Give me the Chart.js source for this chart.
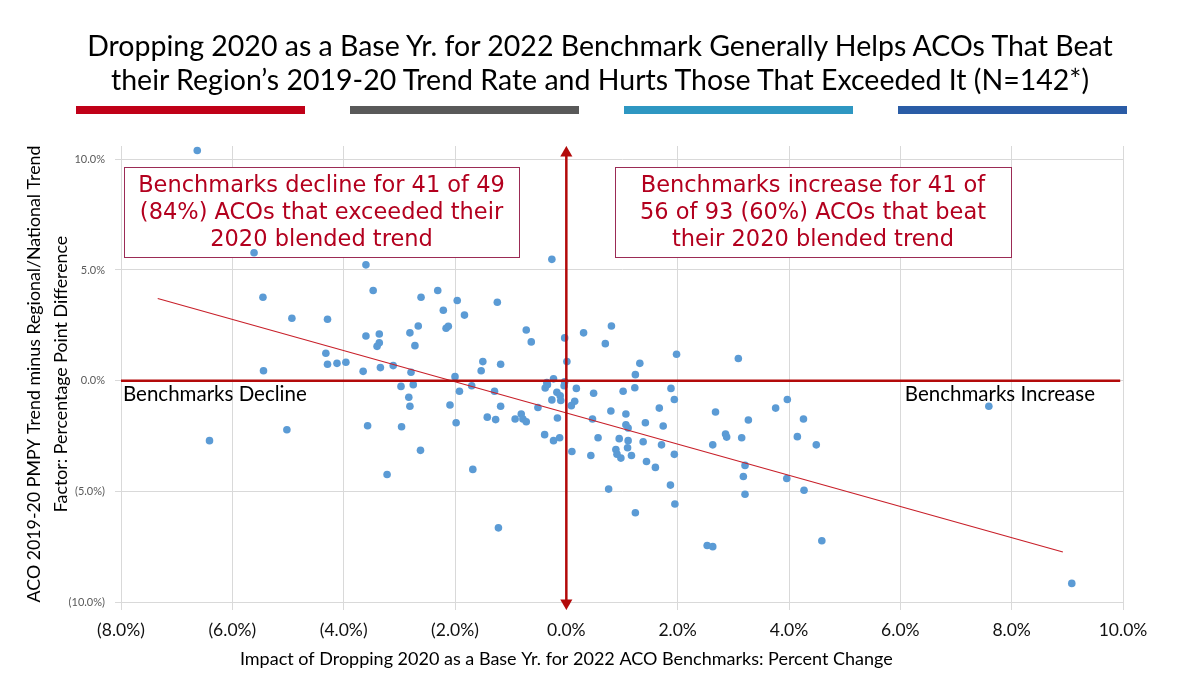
<!DOCTYPE html>
<html>
<head>
<meta charset="utf-8">
<script src="https://cdn.jsdelivr.net/npm/chart.js@4.4.1/dist/chart.umd.min.js"></script>
<style>
  html, body { margin: 0; padding: 0; background: #fff; }
  #wrap { position: relative; width: 1200px; height: 675px; overflow: hidden; }
  #grafico { position: absolute; left: 0; top: 0; }
  #titulo { position: absolute; left: 0; top: 28px; width: 1200px; text-align: center;
            font-family: Lato, "Noto Sans", sans-serif; font-size: 28.5px; line-height: 34px; color: #000; }
  .barra { position: absolute; top: 106px; height: 8px; width: 229px; }
</style>
</head>
<body>
<div id="wrap">
  <canvas id="grafico" width="1200" height="675"></canvas>
  <div id="titulo">Dropping 2020 as a Base Yr. for 2022 Benchmark Generally Helps ACOs That Beat<br>their Region’s 2019-20 Trend Rate and Hurts Those That Exceeded It (N=142*)</div>
  <div class="barra" style="left:76px;background:#C00018"></div>
  <div class="barra" style="left:350px;background:#595959"></div>
  <div class="barra" style="left:624px;background:#2E97C2"></div>
  <div class="barra" style="left:898px;background:#2A5CA6"></div>
</div>
<script>
// impacto de quitar 2020 (x, %) y diferencia de tendencia (y, puntos %)
const impacto = [
  -6.63, -5.61, -5.45, -4.93, -4.29, -3.60, -3.60, -4.32, -4.29, -4.12,
  -3.96, -5.44, -3.65, -0.26, -3.47, -2.61, -2.31, -1.96, -2.21, -1.83,
  -1.24, -2.16, -2.12, -2.66, -2.81, -2.72, -3.36, -3.36, -3.40, -3.34,
  -3.11, -2.79, -2.00, -1.53, -1.50, -1.18, -0.72, -0.63, -0.03, 0.01,
  -0.23, -0.35, 0.31, 0.70, 0.81, 1.32, 1.24, 1.98, 3.09, -6.41,
  -5.02, -3.57, -2.97, -2.75, -2.83, -2.81, -2.96, -2.62, -3.22, -2.09,
  -1.92, -1.98, -1.70, -1.68, -1.22, -1.29, -1.18, -1.42, -1.27, -0.92,
  -0.81, -0.78, -0.72, -0.51, -0.38, -0.34, -0.26, -0.17, -0.11, -0.10,
  -0.04, 0.18, 0.15, 0.09, -0.16, -0.39, -0.23, -0.12, 0.10, 0.49,
  0.80, 0.47, 0.57, 0.44, 0.76, 1.23, 1.02, 1.88, 1.94, 1.07,
  1.67, 1.42, 1.07, 1.11, 1.74, 0.95, 1.11, 1.38, 1.71, 0.89,
  0.91, 0.98, 1.10, 1.17, 1.44, 1.60, 1.94, 1.87, 1.95, 1.24,
  2.68, 3.27, 2.86, 2.88, 2.63, 3.15, 3.21, 3.18, 3.21, 2.53,
  2.63, 3.76, 3.97, 4.26, 4.15, 4.49, 3.96, 4.27, 4.59, 7.59,
  9.08, -0.03
];
const difTendencia = [
  10.40, 5.78, 3.77, 2.82, 2.77, 5.23, 2.02, 1.24, 0.74, 0.78,
  0.83, 0.45, 0.42, 5.48, 4.07, 3.77, 4.07, 3.62, 3.18, 2.96,
  3.54, 2.37, 2.46, 2.47, 2.16, 1.58, 2.11, 1.71, 1.55, 0.59,
  0.68, 0.38, 0.18, 0.45, 0.86, 0.74, 2.29, 1.75, 1.93, 0.86,
  0.08, -0.09, 2.16, 1.67, 2.47, 0.78, 0.27, 1.19, 1.00, -2.71,
  -2.22, -2.04, -0.26, -0.18, -0.75, -1.16, -2.08, -3.15, -4.24, -1.10,
  -0.48, -1.90, -0.23, -4.01, -6.65, -0.48, -1.16, -1.65, -1.76, -1.73,
  -1.51, -1.73, -1.86, -1.21, -0.33, -0.18, -0.87, -0.53, -0.68, -0.90,
  -0.23, -0.35, -0.93, -1.13, -1.69, -2.44, -2.71, -2.58, -3.20, -0.57,
  -1.37, -1.73, -2.58, -3.38, -4.90, -0.32, -0.48, -0.35, -0.85, -1.51,
  -1.24, -1.90, -1.99, -2.14, -2.05, -2.62, -2.71, -2.76, -2.90, -3.11,
  -3.32, -3.50, -3.03, -3.38, -3.65, -3.92, -3.33, -4.72, -5.57, -5.97,
  -1.42, -1.78, -2.41, -2.55, -2.90, -2.58, -3.83, -4.33, -5.13, -7.45,
  -7.50, -1.24, -0.85, -1.73, -2.53, -2.90, -4.42, -4.95, -7.23, -1.16,
  -9.16, -0.05
];
// línea de tendencia (extremos)
const tendenciaX = [-7.34, 8.92];
const tendenciaY = [3.71, -7.74];

const ticksX = [-8, -6, -4, -2, 0, 2, 4, 6, 8, 10];
const ticksY = [-10, -5, 0, 5, 10];

const textoIzq = ['Benchmarks decline for 41 of 49', '(84%) ACOs that exceeded their', '2020 blended trend'];
const textoDer = ['Benchmarks increase for 41 of', '56 of 93 (60%) ACOs that beat', 'their 2020 blended trend'];

const pct = v => v < 0 ? `(${Math.abs(v).toFixed(1)}%)` : `${v.toFixed(1)}%`;
const ROJO = '#B30A0A';

const puntos = impacto.map((x, i) => ({ x: x, y: difTendencia[i] }));

const extras = {
    id: 'extras',
    beforeDatasetsDraw(chart) {
        const { ctx, scales: { x, y } } = chart;
        const cajas = [
            { x0: -7.95, x1: -0.85, lineas: textoIzq },
            { x0: 0.88, x1: 7.99, lineas: textoDer }
        ];
        ctx.save();
        cajas.forEach(c => {
            const l = Math.round(x.getPixelForValue(c.x0));
            const r = Math.round(x.getPixelForValue(c.x1));
            const t = Math.round(y.getPixelForValue(9.65));
            const b = Math.round(y.getPixelForValue(5.58));
            ctx.fillStyle = '#fff';
            ctx.fillRect(l, t, r - l, b - t);
            ctx.strokeStyle = '#9B2B55';
            ctx.lineWidth = 1;
            ctx.strokeRect(l + 0.5, t + 0.5, r - l, b - t);
            ctx.fillStyle = '#B3001E';
            ctx.font = '22.5px "DejaVu Sans"';
            ctx.textAlign = 'center';
            ctx.textBaseline = 'middle';
            c.lineas.forEach((s, i) => ctx.fillText(s, (l + r) / 2, t + 19 + i * 27));
        });
        ctx.restore();
    },
    afterDraw(chart) {
        const { ctx, chartArea, scales: { x, y } } = chart;
        ctx.save();
        ctx.fillStyle = '#000';
        ctx.font = '20.5px Lato';
        ctx.textBaseline = 'middle';
        const yl = y.getPixelForValue(0) + 14;
        ctx.textAlign = 'left';
        ctx.fillText('Benchmarks Decline', chartArea.left + 2, yl);
        ctx.textAlign = 'right';
        ctx.fillText('Benchmarks Increase', chartArea.right - 28, yl);
        ctx.font = '18px Lato';
        ctx.textAlign = 'center';
        ctx.fillText('Impact of Dropping 2020 as a Base Yr. for 2022 ACO Benchmarks: Percent Change',
            x.getPixelForValue(0), 659);
        ctx.restore();
    }
};

const ctx = document.getElementById('grafico').getContext('2d');
new Chart(ctx, {
    type: 'scatter',
    data: {
        datasets: [
            {
                // eje horizontal rojo
                type: 'line',
                data: [{ x: -8, y: 0 }, { x: 9.95, y: 0 }],
                borderColor: ROJO,
                borderWidth: 2.5,
                pointRadius: 0,
                order: 0
            },
            {
                // eje vertical rojo con flechas
                type: 'line',
                data: [{ x: 0, y: -10.05 }, { x: 0, y: 10.28 }],
                borderColor: ROJO,
                backgroundColor: ROJO,
                borderWidth: 2.5,
                pointStyle: 'triangle',
                pointRadius: 7,
                pointBorderWidth: 0,
                pointRotation: c => c.dataIndex === 0 ? 180 : 0,
                clip: false,
                order: 0
            },
            {
                type: 'line',
                data: tendenciaX.map((x, i) => ({ x: x, y: tendenciaY[i] })),
                borderColor: '#C8202A',
                borderWidth: 1.2,
                pointRadius: 0,
                order: 1
            },
            {
                data: puntos,
                backgroundColor: '#5B9BD5',
                borderWidth: 0,
                pointRadius: 3.8,
                pointHoverRadius: 3.8,
                clip: false,
                order: 2
            }
        ]
    },
    options: {
        responsive: false,
        animation: false,
        events: [],
        layout: { padding: { top: 146, right: 77, left: 0, bottom: 0 } },
        plugins: {
            legend: { display: false },
            tooltip: { enabled: false }
        },
        scales: {
            x: {
                type: 'linear',
                min: -8,
                max: 10,
                afterBuildTicks: s => { s.ticks = ticksX.map(v => ({ value: v })); },
                afterFit: s => { s.height = 73; },
                grid: { color: '#D9D9D9', tickLength: 8 },
                border: { color: '#D9D9D9' },
                ticks: {
                    callback: v => pct(v),
                    font: { family: 'Lato', size: 17.5 },
                    color: '#111',
                    padding: 10,
                    maxRotation: 0
                }
            },
            y: {
                min: -10,
                max: 10.6,
                afterBuildTicks: s => { s.ticks = ticksY.map(v => ({ value: v })); },
                afterFit: s => { s.width = 121; },
                grid: { color: '#D9D9D9', tickLength: 6 },
                border: { color: '#D9D9D9' },
                ticks: {
                    callback: v => pct(v),
                    font: { family: 'Lato', size: 11 },
                    color: '#595959',
                    padding: 10
                },
                title: {
                    display: true,
                    text: ['ACO 2019-20 PMPY Trend minus Regional/National Trend', 'Factor: Percentage Point Difference'],
                    font: { family: 'Lato', size: 17.8, lineHeight: 1.52 },
                    color: '#000',
                    padding: { top: 21, bottom: 0 }
                }
            }
        }
    },
    plugins: [extras]
});
</script>
</body>
</html>
